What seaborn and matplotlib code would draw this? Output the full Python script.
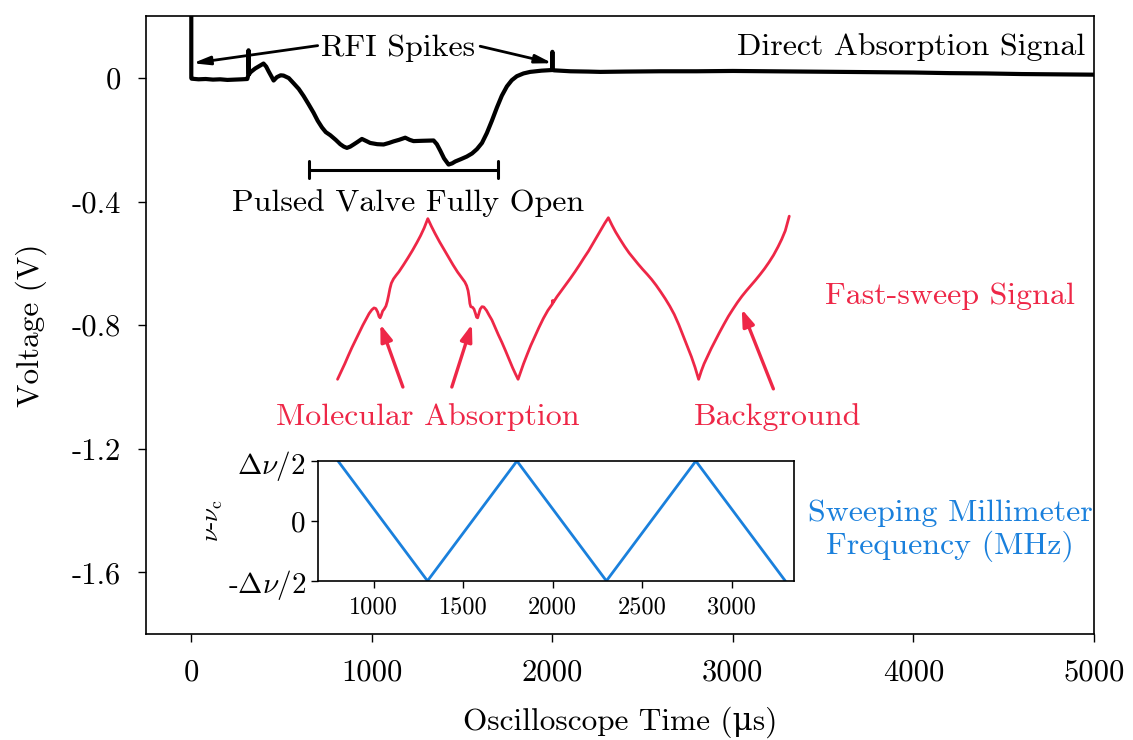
import numpy as np
import pandas as pd
import matplotlib
matplotlib.use("Agg")
import matplotlib.pyplot as plt
import seaborn as sns

# ---------------- data ----------------
# Direct absorption signal (oscilloscope time in us, voltage in V)
direct_t = [0, 0, 2, 40, 80, 120, 160, 200, 240, 280, 310, 316, 317, 319, 330, 354, 380, 400,
            415, 428, 445, 456, 474, 495, 511, 540, 567, 595, 622, 650, 677, 700, 724, 745,
            770, 800, 825, 845, 862, 880, 899, 920, 945, 970, 991, 1030, 1065, 1095, 1120,
            1150, 1185, 1210, 1231, 1280, 1342, 1360, 1379, 1400, 1425, 1445, 1462, 1495,
            1526, 1555, 1582, 1610, 1637, 1665, 1693, 1720, 1748, 1775, 1803, 1840, 1877,
            1940, 1998, 2000, 2002, 2010, 2100, 2200, 2265, 2400, 2600, 2800, 3000, 3200,
            3400, 3600, 3800, 4000, 4200, 4400, 4600, 4800, 5000]
direct_v = [0.25, 0.0, -0.002, -0.004, -0.003, -0.005, -0.004, -0.006, -0.005, -0.004, -0.003,
            0.01, 0.09, 0.012, 0.02, 0.031, 0.04, 0.047, 0.037, 0.022, 0.004, -0.008, 0.003,
            0.009, 0.008, 0.0, -0.017, -0.035, -0.058, -0.085, -0.112, -0.138, -0.16, -0.175,
            -0.185, -0.2, -0.214, -0.222, -0.226, -0.222, -0.215, -0.207, -0.197, -0.204,
            -0.21, -0.214, -0.215, -0.21, -0.205, -0.2, -0.193, -0.2, -0.204, -0.203, -0.202,
            -0.214, -0.235, -0.26, -0.28, -0.276, -0.27, -0.262, -0.254, -0.244, -0.23,
            -0.21, -0.178, -0.138, -0.095, -0.057, -0.027, -0.007, 0.006, 0.015, 0.02, 0.024,
            0.026, 0.085, 0.026, 0.025, 0.022, 0.021, 0.02, 0.021, 0.022, 0.022, 0.023, 0.022,
            0.021, 0.02, 0.019, 0.018, 0.016, 0.015, 0.013, 0.012, 0.011]

# Fast-sweep signal
sweep_t = [810, 830, 850, 870, 890, 910, 930, 950, 970, 985, 1000, 1012, 1022, 1032, 1040,
           1046, 1052, 1060, 1068, 1078, 1086, 1093, 1100, 1108, 1120, 1135, 1150, 1175,
           1200, 1225, 1250, 1270, 1290, 1310,
           1330, 1350, 1375, 1400, 1425, 1450, 1475, 1500, 1515, 1525, 1533, 1539, 1543,
           1548, 1558, 1566, 1574, 1580, 1586, 1592, 1600, 1610, 1620, 1635, 1650, 1665,
           1680, 1700, 1720, 1740, 1760, 1780, 1795, 1810,
           1825, 1840, 1860, 1880, 1900, 1925, 1950, 1975, 1999, 2001, 2003, 2025, 2050,
           2075, 2100, 2125, 2150, 2175, 2200, 2225, 2250, 2270, 2290, 2310,
           2330, 2350, 2375, 2400, 2425, 2450, 2475, 2500, 2525, 2550, 2575, 2600, 2625,
           2650, 2675, 2700, 2725, 2750, 2770, 2790, 2810,
           2825, 2840, 2860, 2880, 2900, 2925, 2950, 2975, 3000, 3025, 3050, 3075, 3100,
           3125, 3150, 3175, 3200, 3225, 3250, 3270, 3290, 3312]
sweep_v = [-0.975, -0.95, -0.925, -0.898, -0.872, -0.848, -0.824, -0.80, -0.778, -0.762,
           -0.750, -0.744, -0.746, -0.757, -0.772, -0.776, -0.768, -0.754, -0.748, -0.738,
           -0.722, -0.703, -0.682, -0.664, -0.650, -0.638, -0.627, -0.605, -0.582, -0.558,
           -0.532, -0.510, -0.485, -0.455,
           -0.48, -0.503, -0.53, -0.555, -0.58, -0.605, -0.628, -0.648, -0.66, -0.672,
           -0.688, -0.71, -0.73, -0.740, -0.742, -0.748, -0.762, -0.774, -0.776, -0.764,
           -0.748, -0.740, -0.741, -0.752, -0.768, -0.783, -0.803, -0.83, -0.855, -0.882,
           -0.91, -0.938, -0.957, -0.975,
           -0.950, -0.925, -0.895, -0.866, -0.840, -0.808, -0.778, -0.752, -0.732, -0.72,
           -0.728, -0.708, -0.688, -0.668, -0.648, -0.627, -0.605, -0.582, -0.56, -0.535,
           -0.51, -0.49, -0.47, -0.452,
           -0.476, -0.498, -0.522, -0.545, -0.566, -0.584, -0.602, -0.619, -0.635, -0.652,
           -0.671, -0.692, -0.714, -0.738, -0.765, -0.798, -0.835, -0.872, -0.902, -0.936,
           -0.975,
           -0.948, -0.925, -0.9, -0.875, -0.852, -0.824, -0.797, -0.771, -0.748, -0.726,
           -0.706, -0.688, -0.671, -0.654, -0.636, -0.617, -0.596, -0.573, -0.546, -0.522,
           -0.494, -0.447]

# Sweeping millimetre frequency (inset)
freq_t = [800, 1300, 1800, 2300, 2800, 3300]
freq_v = [1, -1, 1, -1, 1, -1]

main_xticks = [0, 1000, 2000, 3000, 4000, 5000]
main_yticks = [0, -0.4, -0.8, -1.2, -1.6]
main_ylabels = ["0", "-0.4", "-0.8", "-1.2", "-1.6"]
inset_xticks = [1000, 1500, 2000, 2500, 3000]
inset_yticks = [-1, 0, 1]
inset_ylabels = [r"-$\Delta\nu/2$", "0", r"$\Delta\nu/2$"]

RED = "#EE2747"
BLUE = "#1A80DC"

# ---------------- style ----------------
sns.set_style("ticks")
plt.rcParams["font.family"] = ["cmr10", "DejaVu Serif"]
plt.rcParams["mathtext.fontset"] = "cm"
plt.rcParams["axes.unicode_minus"] = False
plt.rcParams["axes.formatter.use_mathtext"] = True
for k in ["text.color", "axes.labelcolor", "xtick.color", "ytick.color", "axes.edgecolor"]:
    plt.rcParams[k] = "black"

fig = plt.figure(figsize=(11.33, 7.40), dpi=100)
ax = fig.add_axes([0.129, 0.143, 0.8366, 0.835])

df_direct = pd.DataFrame({"t": direct_t, "v": direct_v})
df_sweep = pd.DataFrame({"t": sweep_t, "v": sweep_v})
sns.lineplot(data=df_direct, x="t", y="v", ax=ax, color="black", lw=3.0, sort=False,
             estimator=None)
sns.lineplot(data=df_sweep, x="t", y="v", ax=ax, color=RED, lw=2.0, sort=False,
             estimator=None)

ax.set_xlim(-250, 5000)
ax.set_ylim(-1.8, 0.2)
ax.set_xticks(main_xticks)
ax.set_xticklabels([str(v) for v in main_xticks])
ax.set_yticks(main_yticks)
ax.set_yticklabels(main_ylabels)
ax.tick_params(labelsize=22, direction="out", length=6, width=1, pad=12)
ax.set_xlabel("Oscilloscope Time (μs)", fontsize=22.5, labelpad=14)
ax.set_ylabel("Voltage (V)", fontsize=22.5, labelpad=18)
for s in ax.spines.values():
    s.set_linewidth(1.2)

FS = 23
# annotations (black)
ax.text(1146, 0.095, "RFI Spikes", fontsize=FS, ha="center", va="center")
akw = dict(arrowstyle="-|>,head_length=1.0,head_width=0.25", lw=2.0, color="black",
           shrinkA=0, shrinkB=0)
ax.annotate("", xy=(8, 0.048), xytext=(700, 0.105), arrowprops=akw)
ax.annotate("", xy=(2000, 0.048), xytext=(1600, 0.103), arrowprops=akw)
ax.text(4950, 0.1, "Direct Absorption Signal", fontsize=FS, ha="right", va="center")
ax.plot([653, 1700], [-0.297, -0.297], color="black", lw=2.2)
ax.plot([653, 653], [-0.27, -0.325], color="black", lw=2.2)
ax.plot([1700, 1700], [-0.27, -0.325], color="black", lw=2.2)
ax.text(1202, -0.405, "Pulsed Valve Fully Open", fontsize=FS, ha="center", va="center")

# annotations (red)
ax.text(4203, -0.706, "Fast-sweep Signal", fontsize=FS, ha="center", va="center", color=RED)
ax.text(1312, -1.097, "Molecular Absorption", fontsize=FS, ha="center", va="center",
        color=RED)
ax.text(3250, -1.097, "Background", fontsize=FS, ha="center", va="center", color=RED)
rkw = dict(arrowstyle="-|>,head_length=1.0,head_width=0.35", lw=2.4, color=RED,
           shrinkA=0, shrinkB=0)
ax.annotate("", xy=(1047, -0.797), xytext=(1172, -1.0), arrowprops=rkw)
ax.annotate("", xy=(1554, -0.797), xytext=(1443, -1.0), arrowprops=rkw)
ax.annotate("", xy=(3049, -0.748), xytext=(3224, -1.006), arrowprops=rkw)

# blue label
ax.text(4203, -1.465, "Sweeping Millimeter\nFrequency (MHz)", fontsize=FS, ha="center",
        va="center", color=BLUE, linespacing=1.15)

# ---------------- inset ----------------
ins = fig.add_axes([0.281, 0.215, 0.420, 0.162])
df_freq = pd.DataFrame({"t": freq_t, "v": freq_v})
sns.lineplot(data=df_freq, x="t", y="v", ax=ins, color=BLUE, lw=2.0, estimator=None)
ins.set_xlim(690, 3350)
ins.set_ylim(-1, 1)
ins.set_xticks(inset_xticks)
ins.set_xticklabels([str(v) for v in inset_xticks])
ins.set_yticks(inset_yticks)
ins.set_yticklabels(inset_ylabels)
ins.tick_params(labelsize=17.5, direction="out", length=5, width=1, pad=6)
ins.tick_params(axis="y", labelsize=21, pad=4)
ins.set_xlabel("")
ins.set_ylabel(r"$\nu$-$\nu_\mathrm{c}$", fontsize=18, labelpad=2)
for s in ins.spines.values():
    s.set_linewidth(1.2)

fig.savefig("out.png", dpi=100)
